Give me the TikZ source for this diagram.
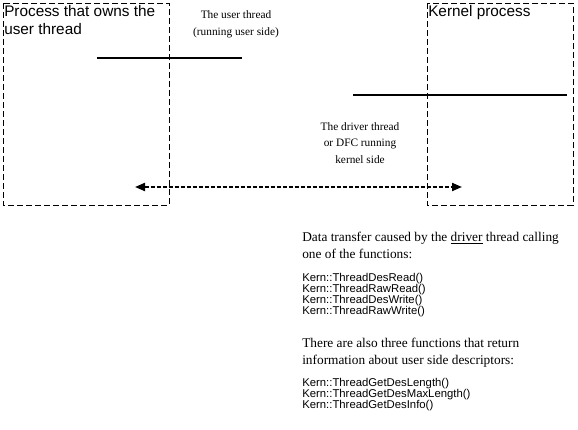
\documentclass[tikz,border=0pt]{standalone}
\usepackage{fontspec}
\setmainfont{Liberation Serif}
\setsansfont{Liberation Sans}
\usepackage{tikz}
\usetikzlibrary{arrows.meta, positioning}

\begin{document}
\begin{tikzpicture}[x=0.75pt, y=-0.75pt,
    procbox/.style={draw, line width=0.75pt, dash pattern=on 4.5pt off 2.25pt},
    proclabel/.style={anchor=north west, inner sep=0pt, align=left,
                      font=\sffamily\fontsize{11.5}{13.5}\selectfont},
    threadline/.style={line width=1.6pt},
    threadlabel/.style={align=center, inner sep=0pt,
                        font=\fontsize{8.5}{12.5}\selectfont},
    notetext/.style={anchor=north west, inner sep=0pt, align=left,
                     font=\fontsize{10}{12.75}\selectfont},
    functext/.style={anchor=north west, inner sep=0pt, align=left,
                     font=\sffamily\fontsize{8.5}{8.25}\selectfont},
    transfer/.style={{Triangle[length=7.5pt,width=6pt]}-{Triangle[length=7.5pt,width=6pt]},
                     line width=1.5pt, dash pattern=on 3pt off 1.5pt}
]
    \useasboundingbox (0,0) rectangle (578,429);

    % the two processes
    \draw[procbox] (3,3) rectangle (169,205);
    \draw[procbox] (427,3) rectangle (573,205);
    \node[proclabel] (userproc) at (4,5) {Process that owns the\\user thread};
    \node[proclabel] (kernproc) at (428,5) {Kernel process};

    % threads
    \coordinate (userstart) at (97,58);
    \coordinate (userend) at (242,58);
    \coordinate (drvstart) at (353,95);
    \coordinate (drvend) at (567,95);
    \draw[threadline] (userstart) -- (userend);
    \draw[threadline] (drvstart) -- (drvend);
    \node[threadlabel] (userthread) at (236,24) {The user thread\\(running user side)};
    \node[threadlabel] (drvthread) at (360,143) {The driver thread\\or DFC running\\kernel side};

    % data transfer
    \coordinate (xferleft) at (135,187);
    \coordinate (xferright) at (462,187);
    \draw[transfer] (xferleft) -- (xferright);

    % notes
    \node[notetext] (note1) at (302,232) {Data transfer caused by the \underline{driver} thread calling\\one of the functions:};
    \node[functext] (funcs1) at (302,273) {Kern::ThreadDesRead()\\Kern::ThreadRawRead()\\Kern::ThreadDesWrite()\\Kern::ThreadRawWrite()};
    \node[notetext] (note2) at (302,338) {There are also three functions that return\\information about user side descriptors:};
    \node[functext] (funcs2) at (302,378) {Kern::ThreadGetDesLength()\\Kern::ThreadGetDesMaxLength()\\Kern::ThreadGetDesInfo()};
\end{tikzpicture}
\end{document}
